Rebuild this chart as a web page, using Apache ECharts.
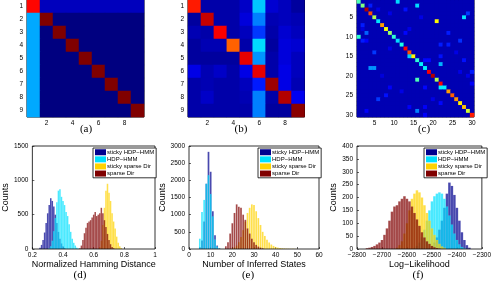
<!DOCTYPE html>
<html><head><meta charset="utf-8">
<script src="https://cdn.jsdelivr.net/npm/echarts@6/dist/echarts.min.js"></script>
<style>html,body{margin:0;padding:0;background:#fff}#c{width:494px;height:283px}</style>
</head><body><div id="c"></div>
<script>
// ---------- data ----------
const catsAB = ['1','2','3','4','5','6','7','8','9'];
const catsC = Array.from({length:30},(_,i)=>String(i+1));
const heatA = [
 [0.87,0.06,0.06,0.06,0.06,0.06,0.06,0.06,0.06],
 [0.29,1.00,0,0,0,0,0,0,0],
 [0.29,0,1.00,0,0,0,0,0,0],
 [0.29,0,0,1.00,0,0,0,0,0],
 [0.29,0,0,0,1.00,0,0,0,0],
 [0.29,0,0,0,0,1.00,0,0,0],
 [0.29,0,0,0,0,0,1.00,0,0],
 [0.29,0,0,0,0,0,0,1.00,0],
 [0.29,0,0,0,0,0,0,0,1.00]
];
const heatB = [
 [0.85,0.04,0.04,0.04,0.07,0.32,0.08,0.06,0.03],
 [0.03,0.93,0.04,0.04,0.09,0.25,0.05,0.06,0.05],
 [0.05,0.04,0.88,0.04,0.06,0.18,0.04,0.08,0.06],
 [0.03,0.05,0.05,0.78,0.04,0.34,0.03,0.09,0.08],
 [0.03,0.03,0.03,0.03,0.90,0.27,0.04,0.09,0.06],
 [0.10,0.05,0.07,0.04,0.10,0.90,0.04,0.10,0.06],
 [0.04,0.05,0.04,0.04,0.06,0.15,0.97,0.10,0.05],
 [0.04,0.07,0.04,0.04,0.05,0.25,0.04,0.95,0.11],
 [0.04,0.04,0.04,0.04,0.04,0.25,0.03,0.03,0.99]
];
const heatCBackground = 0.05;
const heatCDiag = [0.45,0.50,0.95,0.80,0.55,0.35,0.72,0.62,0.52,0.42,0.34,0.40,0.87,0.80,0.63,
                   0.42,0.36,0.36,0.88,0.95,0.55,0.87,0.36,0.72,0.78,0.73,0.64,0.68,0.58,0.85];
// [row, col, value] (1-based)
const heatCExtra = [
 [10,1,0.42],[1,11,0.34],[2,16,0.34],[2,4,0.15],[3,13,0.14],[6,21,0.63],[5,28,0.35],[4,29,0.18],
 [7,2,0.15],[9,3,0.22],[11,2,0.15],[11,3,0.12],[9,13,0.13],[9,24,0.15],[11,27,0.17],[12,22,0.15],
 [12,24,0.15],[14,5,0.18],[15,14,0.33],[15,22,0.14],[16,18,0.13],[16,19,0.13],[16,28,0.14],
 [17,22,0.30],[18,4,0.27],[18,5,0.27],[21,16,0.45],[22,30,0.12],[23,18,0.13],[23,22,0.36],
 [23,9,0.12],[25,8,0.14],[26,6,0.18],[27,22,0.13],[28,14,0.12],[28,18,0.12],[29,16,0.25],
 [29,3,0.12],[30,18,0.12],[19,30,0.15],[3,6,0.1],[5,17,0.1],[8,14,0.1],[13,9,0.1],[19,27,0.1],
 [24,12,0.1],[20,29,0.1],[4,9,0.1],[14,26,0.1],[26,20,0.1],[8,2,0.09],[20,7,0.09]
];

const seriesNames = ['sticky HDP\u2212HMM','HDP\u2212HMM','sticky sparse Dir','sparse Dir'];
const seriesColors = ['#00008f','#00e0ff','#ffd200','#800000'];

// (d) Normalized Hamming distance, bin width 0.01
const dBin = 0.01;
const dStickyHdpStart = 0.25;
const dStickyHdp = [20,60,130,240,380,520,640,740,700,620,500,380,250,150,80,40,15];
const dHdpStart = 0.31;
const dHdp = [10,40,120,260,450,680,850,870,760,700,640,540,480,360,250,150,90,50,20,8];
const dStickySparseStart = 0.64;
const dStickySparse = [30,120,350,600,850,950,820,700,520,400,300,180,90,40,15];
const dSparseStart = 0.51;
const dSparse = [10,50,130,230,310,380,400,420,460,500,540,480,500,520,600,520,420,320,220,130,70,30,10];

// (e) Number of inferred states, bin width 1
const eBin = 1;
const eStickyHdpStart = 5;
const eStickyHdp = [50,250,800,1900,2830,2250,1100,400,100,20];
const eHdpStart = 5;
const eHdp = [300,1080,1430,1900,2150,1600,950,280,70,15];
const eStickySparseStart = 20;
const eStickySparse = [20,50,100,200,350,550,800,1050,1200,1300,1280,1100,900,700,500,380,270,190,130,90,60,40,30,20,15,10,8,5,4,3,2];
const eSparseStart = 17;
const eSparse = [80,200,450,750,1050,1300,1230,1200,1000,850,600,450,300,200,120,70,40,20];

// (f) Log-likelihood, bin width 10
const fBin = 10;
const fStickyHdpStart = -2510;
const fStickyHdp = [5,12,25,45,75,110,160,215,258,245,210,160,110,65,35,15,5];
const fHdpStart = -2570;
const fHdp = [5,12,25,45,75,110,150,185,205,215,220,215,195,165,130,95,60,35,18,8,3];
const fStickySparseStart = -2640;
const fStickySparse = [5,15,30,60,100,150,195,215,228,220,200,170,140,110,80,55,35,20,10,5];
const fSparseStart = -2760;
const fSparse = [3,5,8,12,18,25,35,55,80,110,145,165,170,185,195,205,195,185,165,140,115,90,65,45,30,20,12,7,4,2];

// ---------- helpers ----------
const FONT = 'Liberation Sans';
const jet = ['#000080','#0000ff','#0080ff','#00ffff','#80ff80','#ffff00','#ff8000','#ff0000','#800000'];

function matrixToData(m){ const out=[]; m.forEach((row,r)=>row.forEach((v,c)=>out.push([c,r,v]))); return out; }
function buildC(){
  const m = catsC.map(()=>catsC.map(()=>heatCBackground));
  heatCDiag.forEach((v,i)=>{ m[i][i]=v; });
  heatCExtra.forEach(([r,c,v])=>{ m[r-1][c-1]=v; });
  return matrixToData(m);
}
function bins(start, bin, counts){ return counts.map((c,i)=>[+(start+i*bin).toFixed(4), c]); }

const heatGrid = {show:true, borderColor:'#000', borderWidth:1, backgroundColor:'#000090', z:0};
const histGrid = {show:true, borderColor:'#000', borderWidth:0.8, backgroundColor:'rgba(0,0,0,0)', z:3};
const grids = [
  Object.assign({left:27, top:0, width:117, height:117}, heatGrid, {backgroundColor:'#000080'}),
  Object.assign({left:188, top:0, width:116.5, height:117}, heatGrid),
  Object.assign({left:357, top:0, width:117, height:117}, heatGrid, {backgroundColor:'#0000a8'}),
  Object.assign({left:27, top:146, width:128, height:103}, histGrid),
  Object.assign({left:189, top:146, width:130, height:103}, histGrid),
  Object.assign({left:357, top:146, width:128, height:103}, histGrid)
];

const lblStyle = {fontSize:6.5, fontFamily:FONT, color:'#000'};

function heatX(idx, cats, every){
  return {type:'category', gridIndex:idx, data:cats, position:'bottom',
    axisLine:{show:false}, axisTick:{show:false}, splitLine:{show:false},
    axisLabel:Object.assign({margin:3, interval:(i,v)=>(+v)%every===0}, lblStyle)};
}
function heatY(idx, cats, every){
  return {type:'category', gridIndex:idx, data:cats, inverse:true,
    axisLine:{show:false}, axisTick:{show:false}, splitLine:{show:false},
    axisLabel:Object.assign({margin:4, interval:(i,v)=>(+v)%every===0}, lblStyle)};
}
function histX(idx, min, max, interval, name, fmt){
  return {type:'value', gridIndex:idx, min, max, interval, name, nameLocation:'middle', nameGap:8,
    nameTextStyle:{fontSize:9, fontFamily:FONT, color:'#000'},
    axisLine:{show:false}, splitLine:{show:false},
    axisTick:{show:true, inside:true, length:2, lineStyle:{color:'#000', width:0.6}},
    axisLabel:Object.assign({margin:3, formatter:fmt}, lblStyle)};
}
function histY(idx, max, interval, gap){
  return {type:'value', gridIndex:idx, min:0, max, interval, name:'Counts', nameLocation:'middle', nameGap:gap,
    nameTextStyle:{fontSize:9, fontFamily:FONT, color:'#000'},
    axisLine:{show:false}, splitLine:{show:false},
    axisTick:{show:true, inside:true, length:2, lineStyle:{color:'#000', width:0.6}},
    axisLabel:Object.assign({margin:4, formatter:v=>String(v)}, lblStyle)};
}
function hist(name, color, idx, bin, frac, data){
  return {type:'custom', name, xAxisIndex:idx, yAxisIndex:idx, clip:true,
    itemStyle:{color}, encode:{x:0, y:1}, data,
    renderItem:function(params, api){
      const x = api.value(0), y = api.value(1);
      const p0 = api.coord([x - bin*frac, y]);
      const p1 = api.coord([x + bin*frac, 0]);
      return {type:'rect', shape:{x:p0[0], y:p0[1], width:Math.max(0.6,p1[0]-p0[0]), height:p1[1]-p0[1]},
        style:{fill:color, opacity:0.72, stroke:'rgba(255,255,255,0.25)', lineWidth:0.3}};
    }};
}
function legendAt(left){
  return {left, top:148, orient:'vertical', icon:'rect', itemWidth:11, itemHeight:6, itemGap:0.6,
    padding:[1,2,1,2], borderColor:'#000', borderWidth:0.8, backgroundColor:'#fff', selectedMode:false,
    textStyle:{fontSize:6, fontFamily:FONT, color:'#000', padding:[0,0,0,-4], lineHeight:6.5},
    data:seriesNames};
}
const histSets = [
  {idx:3, bin:dBin, frac:0.5, sets:[[dStickyHdpStart,dStickyHdp],[dHdpStart,dHdp],[dStickySparseStart,dStickySparse],[dSparseStart,dSparse]]},
  {idx:4, bin:eBin, frac:0.4, sets:[[eStickyHdpStart,eStickyHdp],[eHdpStart,eHdp],[eStickySparseStart,eStickySparse],[eSparseStart,eSparse]]},
  {idx:5, bin:fBin, frac:0.5, sets:[[fStickyHdpStart,fStickyHdp],[fHdpStart,fHdp],[fStickySparseStart,fStickySparse],[fSparseStart,fSparse]]}
];
const series = [
  {type:'heatmap', xAxisIndex:0, yAxisIndex:0, data:matrixToData(heatA), progressive:0, emphasis:{disabled:true}},
  {type:'heatmap', xAxisIndex:1, yAxisIndex:1, data:matrixToData(heatB), progressive:0, emphasis:{disabled:true}},
  {type:'heatmap', xAxisIndex:2, yAxisIndex:2, data:buildC(), progressive:0, emphasis:{disabled:true}}
];
histSets.forEach(h=>{
  h.sets.forEach(([start, counts], k)=>{
    series.push(hist(seriesNames[k], seriesColors[k], h.idx, h.bin, h.frac, bins(start, h.bin, counts)));
  });
});

const minus = v => String(v).replace('-', '\u2212');
const option = {
  animation:false,
  grid:grids,
  xAxis:[heatX(0,catsAB,2), heatX(1,catsAB,2), heatX(2,catsC,5),
         histX(3,0.2,1,0.2,'Normalized Hamming Distance', v=>String(+v.toFixed(1))),
         histX(4,0,60,10,'Number of Inferred States', v=>String(v)),
         histX(5,-2800,-2300,100,'Log\u2212Likelihood', minus)],
  yAxis:[heatY(0,catsAB,1), heatY(1,catsAB,1), heatY(2,catsC,5),
         histY(3,1500,500,16), histY(4,3000,500,14), histY(5,400,50,16)],
  visualMap:[0,1,2].map(i=>({type:'continuous', show:false, min:0, max:1, seriesIndex:i, inRange:{color:jet}})),
  legend:[legendAt(93), legendAt(258), legendAt(424)],
  graphic:[['(a)',86,129],['(b)',241,129],['(c)',424,129],['(d)',80,275],['(e)',248,275],['(f)',418,275]].map(([t,x,y])=>({
    type:'text', x, y, silent:true,
    style:{text:t, fontSize:11, fontFamily:'Liberation Serif', fill:'#000', align:'center', verticalAlign:'middle'}
  })),
  series
};
const chart = echarts.init(document.getElementById('c'), null, {renderer:'canvas'});
chart.setOption(option);
</script></body></html>
